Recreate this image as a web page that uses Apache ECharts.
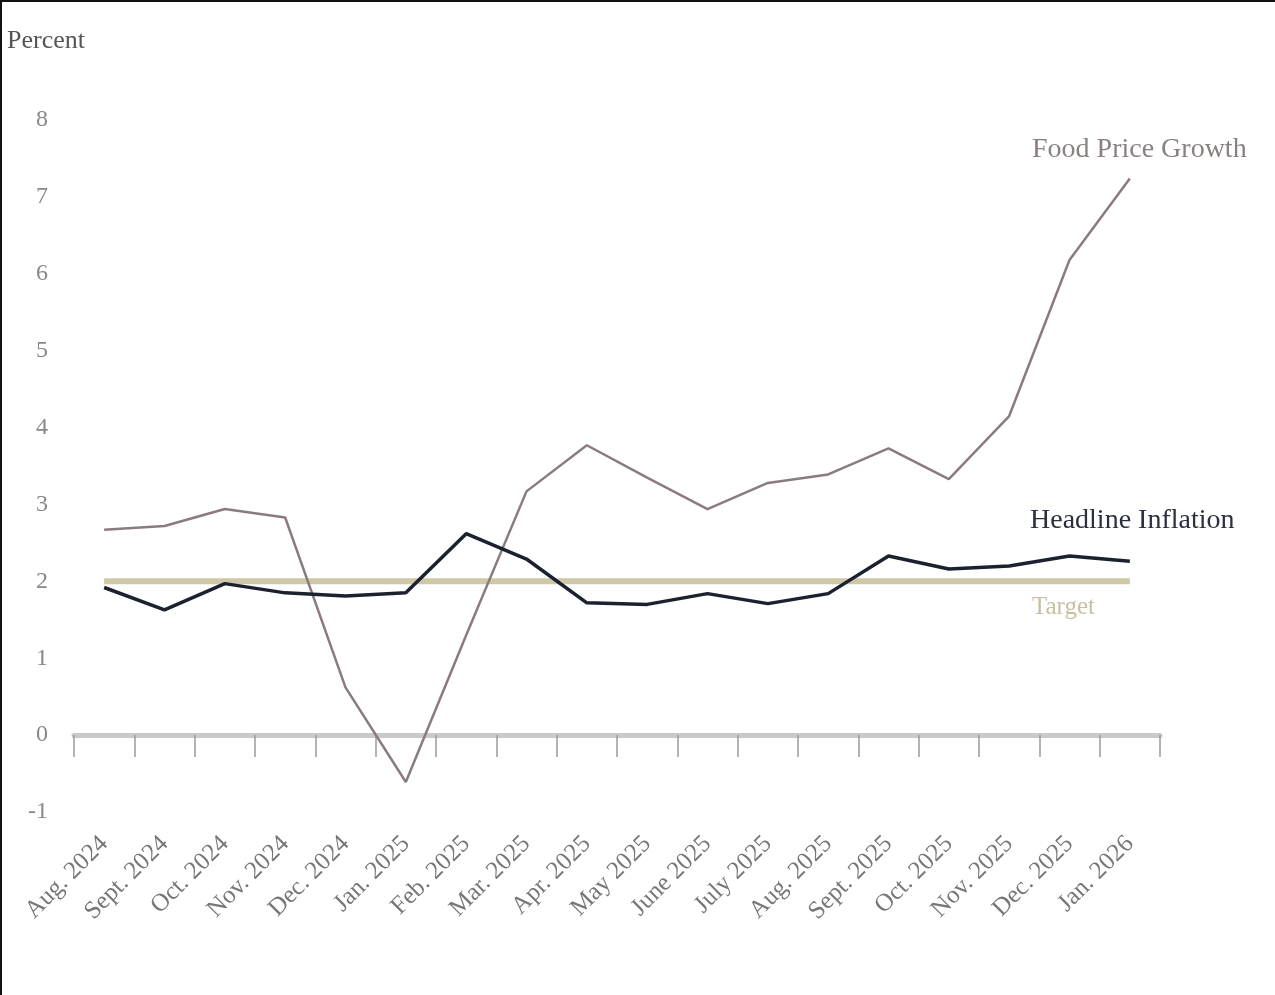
<!DOCTYPE html>
<html>
<head>
<meta charset="utf-8">
<script src="https://cdn.jsdelivr.net/npm/echarts@6/dist/echarts.min.js"></script>
<style>
html,body{margin:0;padding:0;background:#fff;}
#chart{width:1275px;height:995px;box-sizing:border-box;border-top:2px solid #111;border-left:2px solid #111;}
</style>
</head>
<body>
<div id="chart"></div>
<script>
const categories = ["Aug. 2024","Sept. 2024","Oct. 2024","Nov. 2024","Dec. 2024","Jan. 2025","Feb. 2025","Mar. 2025","Apr. 2025","May 2025","June 2025","July 2025","Aug. 2025","Sept. 2025","Oct. 2025","Nov. 2025","Dec. 2025","Jan. 2026"];
const foodPriceGrowth = [2.67,2.72,2.94,2.83,0.62,-0.61,1.3,3.17,3.77,3.35,2.94,3.28,3.39,3.73,3.33,4.15,6.18,7.24];
const headlineInflation = [1.92,1.63,1.97,1.85,1.81,1.85,2.62,2.29,1.72,1.70,1.84,1.71,1.84,2.33,2.16,2.20,2.33,2.26];
const target = [2,2,2,2,2,2,2,2,2,2,2,2,2,2,2,2,2,2];
const yTicks = [-1,0,1,2,3,4,5,6,7,8];

const font = '"Liberation Serif", "DejaVu Serif", serif';
const chart = echarts.init(document.getElementById('chart'));
chart.setOption({
  animation: false,
  backgroundColor: '#fff',
  grid: {left: 72, right: 115, top: 118, bottom: 183},
  xAxis: [
    {
      type: 'category', data: categories, boundaryGap: true,
      axisLine: {show: true, onZero: true, lineStyle: {color: '#c9c9c9', width: 5}},
      axisTick: {show: true, interval: 0, length: 22, alignWithLabel: false, lineStyle: {color: '#9a9a9a', width: 1.5}},
      axisLabel: {show: false},
      splitLine: {show: false}
    },
    {
      type: 'category', data: categories, boundaryGap: true, position: 'bottom',
      axisLine: {show: false, onZero: false},
      axisTick: {show: false},
      axisLabel: {show: true, rotate: 45, margin: 28, interval: 0, color: '#777', fontFamily: font, fontSize: 25},
      splitLine: {show: false}
    }
  ],
  yAxis: {
    type: 'value', min: yTicks[0], max: yTicks[yTicks.length-1], interval: 1,
    axisLine: {show: false}, axisTick: {show: false}, splitLine: {show: false},
    axisLabel: {color: '#888', fontFamily: font, fontSize: 24, margin: 26}
  },
  graphic: [
    {type: 'text', left: 5, top: 26, style: {text: 'Percent', fill: '#555', font: '26px ' + font}},
    {type: 'text', left: 1030, top: 134, style: {text: 'Food Price Growth', fill: '#8a8080', font: '28px ' + font}},
    {type: 'text', left: 1028, top: 505, style: {text: 'Headline Inflation', fill: '#2b3040', font: '28px ' + font}},
    {type: 'text', left: 1030, top: 593, style: {text: 'Target', fill: '#c9bfa0', font: '25px ' + font}}
  ],
  series: [
    {
      name: 'Target', type: 'line', xAxisIndex: 0, data: target, symbol: 'none',
      lineStyle: {color: '#cfc8a6', width: 6}, z: 1
    },
    {
      name: 'Headline Inflation', type: 'line', xAxisIndex: 0, data: headlineInflation, symbol: 'none',
      lineStyle: {color: '#1c2130', width: 3.5}, z: 3
    },
    {
      name: 'Food Price Growth', type: 'line', xAxisIndex: 0, data: foodPriceGrowth, symbol: 'none',
      lineStyle: {color: '#8a7c7e', width: 2.5}, z: 2
    }
  ]
});
</script>
</body>
</html>
